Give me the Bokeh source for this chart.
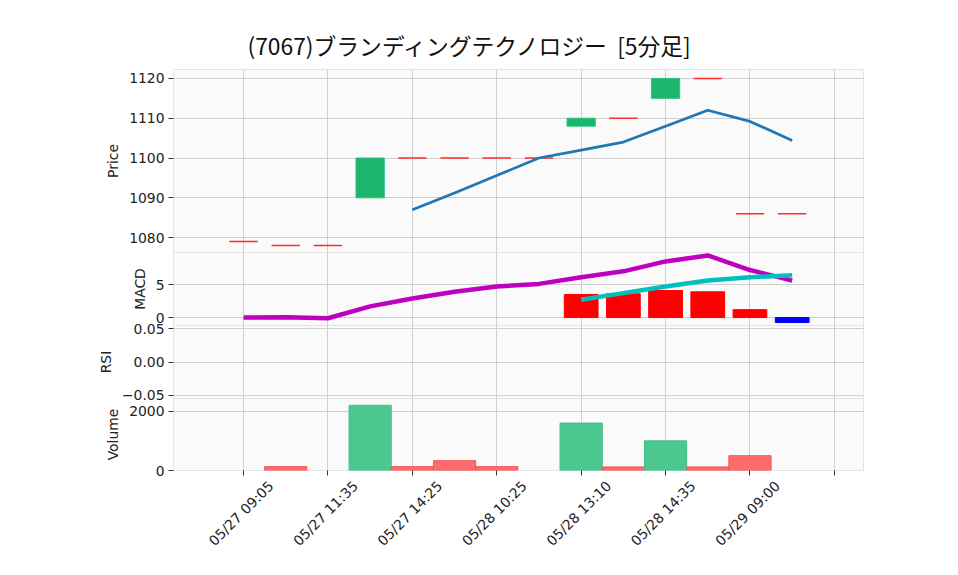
import numpy as np
from math import pi
from bokeh.plotting import figure
from bokeh.layouts import column
from bokeh.models import FixedTicker, Range1d, ColumnDataSource, LinearAxis
from bokeh.embed import file_html
from bokeh.resources import INLINE

# ---------------- data ----------------
title_text = "(7067)ブランディングテクノロジー\u00a0 [5分足]"
idx = list(range(14))
opens = [1079, 1078, 1078, 1090, 1100, 1100, 1100, 1100, 1108, 1110, 1115, 1120, 1086, 1086]
closes = [1079, 1078, 1078, 1100, 1100, 1100, 1100, 1100, 1110, 1110, 1120, 1120, 1086, 1086]
highs = [1079, 1078, 1078, 1100, 1100, 1100, 1100, 1100, 1110, 1110, 1120, 1120, 1086, 1086]
lows = [1079, 1078, 1078, 1090, 1100, 1100, 1100, 1100, 1108, 1110, 1115, 1120, 1086, 1086]
ma5 = [np.nan, np.nan, np.nan, np.nan, 1087, 1091.2, 1095.6, 1100, 1102, 1104, 1108, 1112, 1109.2, 1104.4]
volumes = [0, 130, 0, 2200, 130, 330, 130, 0, 1600, 120, 1000, 120, 500, 0]
macd = [0.0, 0.05, -0.1, 1.7, 2.9, 3.9, 4.7, 5.1, 6.1, 7.0, 8.5, 9.4, 7.2, 5.6]
signal = [np.nan] * 8 + [2.7, 3.7, 4.7, 5.6, 6.1, 6.4]
hist = [np.nan] * 8 + [3.5, 3.6, 4.1, 3.9, 1.2, -0.75]
xtick_pos = [0, 2, 4, 6, 8, 10, 12, 14]
xtick_labels = ["05/27 09:05", "05/27 11:35", "05/27 14:25", "05/28 10:25",
                "05/28 13:10", "05/28 14:35", "05/29 09:00", ""]
price_ticks = [1080, 1090, 1100, 1110, 1120]
macd_ticks = [0, 5]
rsi_ticks = [-0.05, 0.0, 0.05]
rsi_labels = ["\u22120.05", "0.00", "0.05"]
vol_ticks = [0, 2000]

TFONT = "Noto Sans CJK JP"
FONT = "DejaVu Sans"
FS = "13.9px"
W = 942
LEFT = 173
RIGHT = 79
PAD = 12          # transparent border used so edge tick labels are not clipped
LABEL_SHIFT = 0.65  # rotated labels are centred on their tick

x_range = Range1d(-1.66, 14.69)


def make_fig(height, y_range, yticks, ylabel, top=PAD, bottom=PAD, standoff=5, margin_top=0):
    p = figure(width=W, height=height, x_range=x_range, y_range=y_range,
               output_backend="svg", toolbar_location=None,
               min_border_left=LEFT, min_border_right=RIGHT,
               min_border_top=top, min_border_bottom=bottom,
               margin=(margin_top, 0, 0, 0))
    p.background_fill_color = "#fafafa"
    p.border_fill_alpha = 0
    p.outline_line_color = "#e4e4e4"
    p.xgrid.ticker = FixedTicker(ticks=xtick_pos)
    p.ygrid.ticker = FixedTicker(ticks=yticks)
    p.grid.grid_line_color = "#cfcfcf"
    p.grid.grid_line_width = 1
    p.yaxis.ticker = FixedTicker(ticks=yticks)
    p.yaxis.axis_label = ylabel
    p.yaxis.axis_label_text_font = FONT
    p.yaxis.axis_label_text_font_style = "normal"
    p.yaxis.axis_label_text_font_size = FS
    p.yaxis.axis_label_text_color = "#222222"
    p.yaxis.axis_label_standoff = standoff
    p.yaxis.major_label_text_font = FONT
    p.yaxis.major_label_text_font_size = FS
    p.yaxis.major_label_text_color = "#222222"
    p.yaxis.major_label_standoff = 4
    p.yaxis.axis_line_color = None
    p.yaxis.major_tick_out = 5
    p.yaxis.major_tick_in = 0
    p.yaxis.major_tick_line_color = "#333333"
    p.yaxis.minor_tick_line_color = None
    p.xaxis.visible = False
    return p


# ---- price panel ----
p1 = make_fig(69 + 183 + PAD, Range1d(1076.25, 1122.25), price_ticks, "Price", top=69)
p1.title.text = title_text
p1.title.text_font = TFONT
p1.title.text_font_size = "22.8px"
p1.title.text_font_style = "normal"
p1.title.text_color = "#111111"
p1.title.align = "left"
p1.title.offset = 74
p1.title.standoff = 16

up_x = [i for i in idx if closes[i] > opens[i]]
up_src = ColumnDataSource(dict(x=up_x,
                               top=[closes[i] for i in up_x],
                               bottom=[opens[i] for i in up_x],
                               hi=[highs[i] for i in up_x],
                               lo=[lows[i] for i in up_x]))
p1.segment(x0="x", x1="x", y0="lo", y1="hi", source=up_src, line_color="#19b66c")
p1.vbar(x="x", width=0.67, top="top", bottom="bottom", source=up_src,
        fill_color="#19b66c", line_color="#2fc27f", line_width=1)

doji_x = [i for i in idx if closes[i] == opens[i]]
doji_src = ColumnDataSource(dict(x0=[i - 0.335 for i in doji_x],
                                 x1=[i + 0.335 for i in doji_x],
                                 y=[opens[i] for i in doji_x]))
p1.segment(x0="x0", x1="x1", y0="y", y1="y", source=doji_src,
           line_color="#ff2a2a", line_width=1.4)

p1.line(idx, ma5, line_color="#1f77b4", line_width=2.7)

# ---- MACD panel ----
p2 = make_fig(PAD + 73 + PAD, Range1d(-1.2, 9.85), macd_ticks, "MACD", margin_top=-2 * PAD)
hx = [i for i in idx if not np.isnan(hist[i])]
hsrc = ColumnDataSource(dict(x=hx, top=[hist[i] for i in hx],
                             color=["#ff0000" if hist[i] >= 0 else "#0000ff" for i in hx]))
p2.vbar(x="x", width=0.8, top="top", bottom=0, source=hsrc,
        fill_color="color", line_color="color")
p2.line(idx, macd, line_color="#bf00bf", line_width=4.5)
p2.line(idx, signal, line_color="#00bfbf", line_width=4.5)

# ---- RSI panel ----
p3 = make_fig(PAD + 73 + PAD, Range1d(-0.055, 0.055), rsi_ticks, "RSI", margin_top=-2 * PAD)
p3.yaxis.major_label_overrides = {rsi_ticks[k]: rsi_labels[k] for k in range(3)}

# ---- Volume panel ----
p4 = make_fig(PAD + 74 + 85, Range1d(0, 2430), vol_ticks, "Volume", bottom=85, margin_top=-2 * PAD)
vx = [i for i in idx if volumes[i] > 0]
vsrc = ColumnDataSource(dict(
    x=vx, top=[volumes[i] for i in vx],
    fill=["#4dc790" if closes[i] > opens[i] else "#ff6b6b" for i in vx],
    line=["#3fbf85" if closes[i] > opens[i] else "#f25555" for i in vx]))
p4.vbar(x="x", width=1.0, top="top", bottom=0, source=vsrc,
        fill_color="fill", line_color="line", line_width=1)

# tick marks (no labels) at the positions
p4.xaxis.visible = True
p4.xaxis.ticker = FixedTicker(ticks=xtick_pos)
p4.xaxis.major_label_overrides = {t: "" for t in xtick_pos}
p4.xaxis.major_label_text_font_size = "1px"
p4.xaxis.major_label_standoff = 0
p4.xaxis.axis_line_color = None
p4.xaxis.major_tick_out = 5
p4.xaxis.major_tick_in = 0
p4.xaxis.major_tick_line_color = "#333333"
p4.xaxis.minor_tick_line_color = None

# rotated labels, centred under the ticks
lab_pos = [t + LABEL_SHIFT for t in xtick_pos]
lab_axis = LinearAxis(ticker=FixedTicker(ticks=lab_pos),
                      major_label_overrides={lab_pos[k]: xtick_labels[k] for k in range(len(lab_pos))},
                      major_label_orientation=pi / 4,
                      major_label_text_font=FONT,
                      major_label_text_font_size=FS,
                      major_label_text_color="#222222",
                      major_label_standoff=2,
                      axis_line_color=None,
                      major_tick_line_color=None,
                      minor_tick_line_color=None)
p4.add_layout(lab_axis, "below")

layout = column(p1, p2, p3, p4, spacing=0)
open("out.html", "w").write(file_html(layout, INLINE))
